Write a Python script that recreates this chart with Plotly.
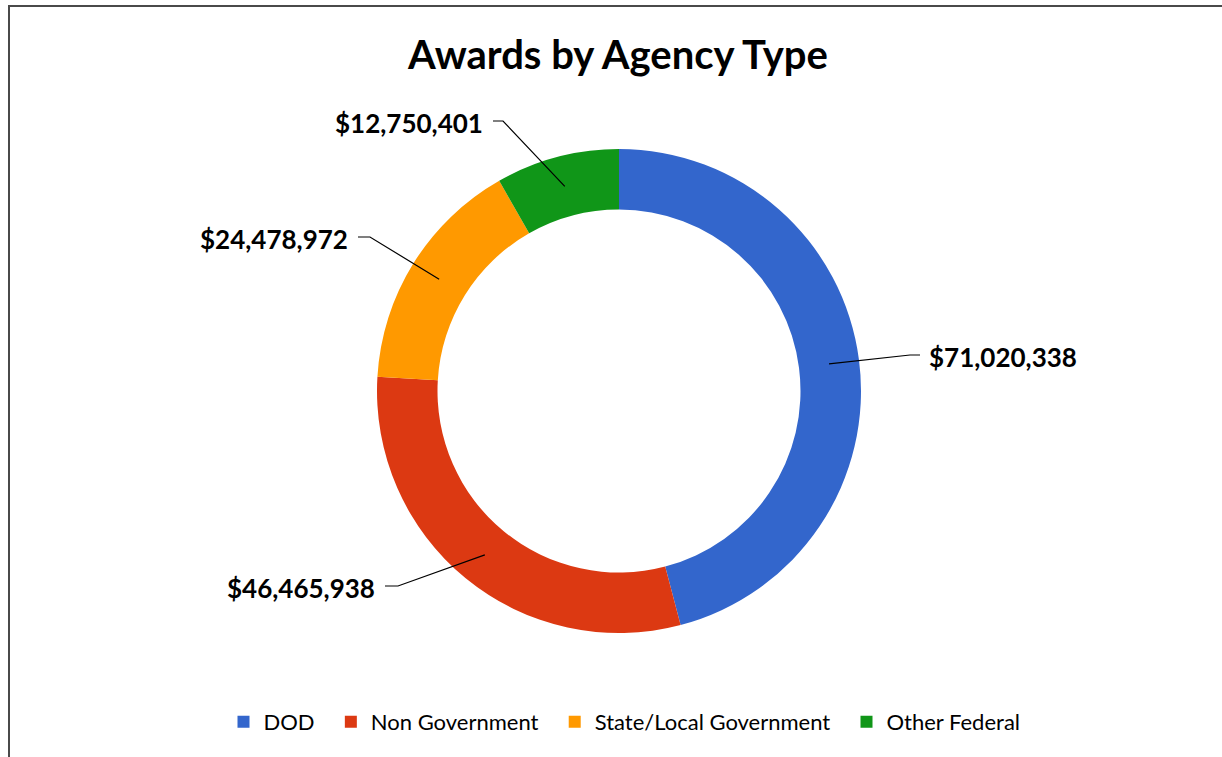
import math
import plotly.graph_objects as go

# Award totals by agency type (USD)
agencies = ["DOD", "Non Government", "State/Local Government", "Other Federal"]
awards = [71020338, 46465938, 24478972, 12750401]
colors = ["#3366CC", "#DC3912", "#FF9900", "#109618"]

W, H = 1222, 757

# Donut geometry in pixels
CX, CY, R_OUT = 619, 391, 242
HOLE = 0.75
R_LEADER = (R_OUT + R_OUT * HOLE) / 2

# Label callout placement (pixels): elbow point, horizontal tick end, text side
callouts = {
    "DOD": {"elbow": (910, 355), "end": (920, 355), "side": "left"},
    "Non Government": {"elbow": (398, 586), "end": (385, 586), "side": "right"},
    "State/Local Government": {"elbow": (370, 237), "end": (358, 237), "side": "right"},
    "Other Federal": {"elbow": (503, 121), "end": (493, 121), "side": "right"},
}

# Extra spacing after each legend entry
LEGEND_PAD = "\u00a0" * 2


def px(x):
    return x / W


def py(y):
    return 1 - y / H


fig = go.Figure(
    go.Pie(
        labels=[a + LEGEND_PAD for a in agencies],
        values=awards,
        hole=HOLE,
        sort=False,
        direction="clockwise",
        rotation=0,
        marker=dict(colors=colors, line=dict(width=0)),
        textinfo="none",
        customdata=agencies,
        hovertemplate="%{customdata}<br>$%{value:,}<br>%{percent}<extra></extra>",
        domain=dict(x=[px(CX - R_OUT), px(CX + R_OUT)],
                    y=[py(CY + R_OUT), py(CY - R_OUT)]),
    )
)

shapes = []
annotations = []

# Leader lines start at the middle of each slice's ring segment
total = sum(awards)
cum = 0.0
for name, val in zip(agencies, awards):
    mid = (cum + val / 2) / total
    cum += val
    theta = math.radians(90 - mid * 360)
    sx = CX + R_LEADER * math.cos(theta)
    sy = CY - R_LEADER * math.sin(theta)
    c = callouts[name]
    ex, ey = c["elbow"]
    tx, ty = c["end"]
    path = f"M {px(sx)},{py(sy)} L {px(ex)},{py(ey)} L {px(tx)},{py(ty)}"
    shapes.append(dict(type="path", xref="paper", yref="paper", path=path,
                       line=dict(color="black", width=1.2)))
    gap = 7 if c["side"] == "left" else -8
    annotations.append(dict(
        x=px(tx + gap), y=py(ty + 2), xref="paper", yref="paper",
        text=f"<b>${val:,}</b>", showarrow=False,
        xanchor="left" if c["side"] == "left" else "right", yanchor="middle",
        font=dict(family="Lato", size=26, color="black"),
    ))

# Chart frame
shapes.append(dict(type="rect", xref="paper", yref="paper",
                   x0=px(9), y0=py(H + 10), x1=px(W + 10), y1=py(6),
                   line=dict(color="#4a4a4a", width=2), layer="above"))

fig.update_layout(
    width=W,
    height=H,
    margin=dict(l=0, r=0, t=0, b=0),
    paper_bgcolor="white",
    plot_bgcolor="white",
    title=dict(text="<b>Awards by Agency Type</b>", x=px(618), xanchor="center",
               y=py(55), yanchor="middle",
               font=dict(family="Lato", size=40, color="black")),
    showlegend=True,
    legend=dict(orientation="h", x=px(630), xanchor="center", y=py(722),
                yanchor="middle", font=dict(family="Lato", size=22, color="black"),
                traceorder="normal"),
    shapes=shapes,
    annotations=annotations,
)

fig.write_html("out.html")
